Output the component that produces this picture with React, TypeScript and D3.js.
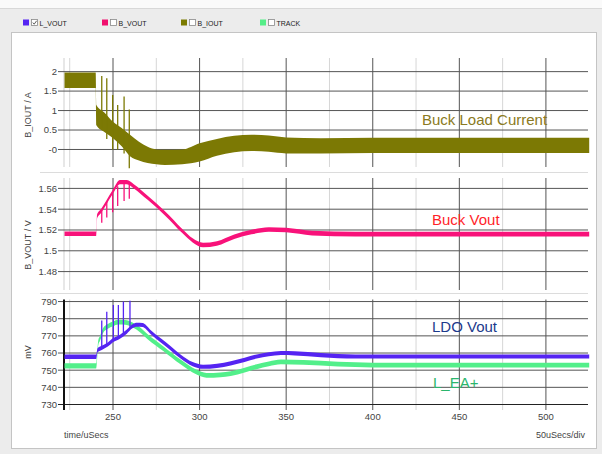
import React from "react";
import * as d3 from "d3";

// ---------- data ----------
const legendNames = ["L_VOUT", "B_VOUT", "B_IOUT", "TRACK"];
const legendChecked = [true, false, false, false];

const xMajorTicks = [250, 300, 350, 400, 450, 500];
const xMinorTicks = [225, 275, 325, 375, 425, 475];

const ioutTicks = [2, 1.5, 1, 0.5, 0];
const ioutTickLabels = ["2", "1.5", "1", "0.5", "-0"];
const bvoutTicks = [1.56, 1.54, 1.52, 1.5, 1.48];
const bvoutTickLabels = ["1.56", "1.54", "1.52", "1.5", "1.48"];
const mvTicks = [790, 780, 770, 760, 750, 740, 730];
const mvTickLabels = ["790", "780", "770", "760", "750", "740", "730"];

// B_IOUT envelope (A)
const ioutTime = [222, 240, 240.3, 245, 250, 255, 260, 265, 270, 275, 280, 290, 300, 310, 320, 330, 340, 350, 370, 400, 525];
const ioutHi = [1.98, 1.98, 1.15, 0.95, 0.71, 0.55, 0.37, 0.2, 0.07, 0.0, -0.01, 0.0, 0.16, 0.27, 0.35, 0.38, 0.36, 0.31, 0.29, 0.3, 0.3];
const ioutLo = [1.58, 1.58, 0.63, 0.45, 0.29, 0.08, -0.18, -0.28, -0.35, -0.38, -0.4, -0.38, -0.31, -0.16, -0.07, -0.04, -0.06, -0.1, -0.1, -0.09, -0.09];

// switching spikes (uSecs)
const spikeTime = [243.5, 246.4, 249.8, 252.7, 256.4, 259.4];
const ioutSpikeTop = [1.89, 1.83, 1.4, 1.14, 1.36, 1.03];
const ioutSpikeBottom = [0.55, 0.27, 0.0, 0.0, -0.1, -0.48];

// B_VOUT envelope (V)
const bvoutTime = [222, 240.3, 240.8, 243, 246, 250, 254, 258, 262, 270, 280, 290, 296, 302, 310, 320, 330, 340, 350, 365, 390, 525];
const bvoutHi = [1.5185, 1.5185, 1.535, 1.540, 1.548, 1.559, 1.568, 1.568, 1.564, 1.553, 1.538, 1.521, 1.512, 1.5077, 1.5092, 1.5157, 1.5202, 1.5227, 1.5222, 1.5192, 1.5182, 1.5182];
const bvoutLo = [1.5143, 1.5143, 1.531, 1.536, 1.544, 1.555, 1.564, 1.564, 1.560, 1.549, 1.534, 1.517, 1.508, 1.5033, 1.5048, 1.5113, 1.5158, 1.5183, 1.5178, 1.5148, 1.5138, 1.5138];
const bvoutSpikeTop = [1.540, 1.547, 1.556, 1.562, 1.566, 1.565];
const bvoutSpikeBottom = [1.527, 1.532, 1.537, 1.543, 1.548, 1.550];

// L_VOUT envelope (mV)
const lvoutTime = [222, 240.3, 241, 243.5, 247, 250, 254, 258, 261, 264, 267, 272, 277, 283, 289, 296, 302, 310, 318, 326, 333, 340, 347, 355, 370, 390, 525];
const lvoutHi = [759.1, 759.1, 762.7, 764.2, 766.2, 768.7, 770.7, 773.7, 776.7, 777.7, 777.5, 773.2, 769.0, 764.2, 759.2, 754.7, 753.2, 753.7, 755.2, 757.2, 759.2, 760.5, 761.2, 761.0, 760.0, 759.2, 759.2];
const lvoutLo = [756.5, 756.5, 760.3, 761.8, 763.8, 766.3, 768.3, 771.3, 774.3, 775.3, 775.1, 770.8, 766.6, 761.8, 756.8, 752.3, 750.8, 751.3, 752.8, 754.8, 756.8, 758.1, 758.8, 758.6, 757.6, 756.8, 756.8];
const lvoutSpikeTime = [243.5, 246.4, 250.2, 253.1, 256.0, 259.8];
const lvoutSpikeBottom = [763, 765, 767.5, 769, 771, 774];
const lvoutSpikeTop = [779, 784, 788, 788, 790, 790.5];

// TRACK / L_EA+ envelope (mV)
const trackTime = [222, 240.3, 241.5, 242.5, 244.2, 247, 250, 253, 256, 260, 265, 270, 279, 289, 298, 304, 312, 318, 326, 333, 340, 347, 360, 380, 400, 525];
const trackHi = [754.0, 754.0, 767.4, 769.9, 774.4, 776.9, 778.4, 779.4, 779.4, 778.4, 775.4, 770.9, 764.0, 756.2, 750.4, 748.4, 748.7, 749.4, 751.4, 753.4, 755.1, 756.2, 755.9, 754.9, 754.4, 754.4];
const trackLo = [751.0, 751.0, 764.6, 767.1, 771.6, 774.1, 775.6, 776.6, 776.6, 775.6, 772.6, 768.1, 761.2, 753.4, 747.6, 745.6, 745.9, 746.6, 748.6, 750.6, 752.3, 753.4, 753.1, 752.1, 751.6, 751.6];

// ---------- component ----------
const FONT = "'Liberation Sans', Arial, sans-serif";

export default function App() {
  const W = 602, H = 454;
  const left = 64, right = 588;
  const x = d3.scaleLinear().domain([221.7, 524.3]).range([left, right]);
  const y1 = d3.scaleLinear().domain([-0.45, 2.35]).range([167, 58]);
  const y2 = d3.scaleLinear().domain([1.4623, 1.57]).range([290, 178]);
  const y3 = d3.scaleLinear().domain([730, 791.2]).range([404.5, 299.5]);

  const band = (t: number[], lo: number[], hi: number[], y: d3.ScaleLinear<number, number>) =>
    d3
      .area<number>()
      .x((_, i) => x(t[i]))
      .y0((_, i) => y(lo[i]))
      .y1((_, i) => y(hi[i]))
      .curve(d3.curveMonotoneX)(t) as string;

  const colors = {
    lvout: "#5524f2",
    bvout: "#f8127a",
    iout: "#7c7904",
    track: "#52ef8a",
  };
  const legendColors = ["#5524f2", "#f0106e", "#7a7a00", "#55ee88"];
  const legendX = [23, 102, 181, 260];

  const panelGrid = (
    y: d3.ScaleLinear<number, number>,
    ticks: number[],
    labels: string[],
    top: number,
    bottom: number,
    key: string
  ) => (
    <g key={key}>
      <line x1={left} x2={left} y1={top} y2={bottom} stroke="#cfcfcf" />
      {xMinorTicks.map((t) => (
        <line key={"mn" + t} x1={x(t)} x2={x(t)} y1={top} y2={bottom} stroke="#d6d6d6" />
      ))}
      {xMajorTicks.map((t) => (
        <line key={"mj" + t} x1={x(t)} x2={x(t)} y1={top} y2={bottom} stroke="#555" />
      ))}
      {ticks.map((v, i) => (
        <g key={"h" + v}>
          <line x1={58} x2={right} y1={y(v)} y2={y(v)} stroke="#555" />
          <text
            x={57}
            y={y(v)}
            dy="0.35em"
            textAnchor="end"
            fontSize={9.5}
            fill="#444"
            fontFamily={FONT}
          >
            {labels[i]}
          </text>
        </g>
      ))}
    </g>
  );

  return (
    <div style={{ position: "fixed", left: 0, top: 0 }}>
      <svg width={W} height={H} style={{ display: "block" }}>
        <rect x={0} y={0} width={W} height={H} fill="#ececec" />
        <rect x={0} y={0} width={W} height={8} fill="#fafafa" />
        <line x1={0} x2={W} y1={8.5} y2={8.5} stroke="#d8d8d8" />
        {/* legend */}
        {legendNames.map((n, i) => (
          <g key={n}>
            <rect x={legendX[i]} y={19.5} width={6} height={6} fill={legendColors[i]} />
            <rect
              x={legendX[i] + 8.5}
              y={19.5}
              width={6}
              height={6}
              fill="#fff"
              stroke="#888"
              strokeWidth={0.8}
            />
            {legendChecked[i] && (
              <path
                d={`M${legendX[i] + 9.8},${22.6} L${legendX[i] + 11.2},${24.2} L${legendX[i] + 13.6},${20.8}`}
                fill="none"
                stroke="#333"
                strokeWidth={0.8}
              />
            )}
            <text x={legendX[i] + 16.5} y={25.5} fontSize={7} fill="#222" fontFamily={FONT}>
              {n}
            </text>
          </g>
        ))}
        {/* frame */}
        <rect x={11.5} y={32.5} width={585} height={416} fill="#fff" stroke="#c4c4c4" />
        {/* panel separators */}
        <line x1={40} x2={right} y1={172.5} y2={172.5} stroke="#dcdcdc" />
        <line x1={40} x2={right} y1={293.5} y2={293.5} stroke="#dcdcdc" />

        {panelGrid(y1, ioutTicks, ioutTickLabels, 58, 167, "p1")}
        {panelGrid(y2, bvoutTicks, bvoutTickLabels, 178, 290, "p2")}
        {/* panel 3 grid */}
        <g>
          {xMinorTicks.map((t) => (
            <line key={"mn3" + t} x1={x(t)} x2={x(t)} y1={299.5} y2={410} stroke="#d6d6d6" />
          ))}
          {xMajorTicks.map((t) => (
            <line key={"mj3" + t} x1={x(t)} x2={x(t)} y1={299.5} y2={410} stroke="#555" />
          ))}
          {mvTicks.map((v, i) => (
            <g key={"h3" + v}>
              <line x1={58} x2={right} y1={y3(v)} y2={y3(v)} stroke={v === 730 ? "#222" : "#555"} />
              <text
                x={57}
                y={y3(v)}
                dy="0.35em"
                textAnchor="end"
                fontSize={9.5}
                fill="#444"
                fontFamily={FONT}
              >
                {mvTickLabels[i]}
              </text>
            </g>
          ))}
          <line x1={left} x2={left} y1={299.5} y2={410} stroke="#111" strokeWidth={2} />
          {xMajorTicks.map((t) => (
            <text
              key={"xl" + t}
              x={x(t)}
              y={419.5}
              textAnchor="middle"
              fontSize={9.5}
              fill="#444"
              fontFamily={FONT}
            >
              {t}
            </text>
          ))}
        </g>

        {/* traces: panel 1 */}
        <path d={band(ioutTime, ioutLo, ioutHi, y1)} fill={colors.iout} />
        {spikeTime.map((t, i) => (
          <line
            key={"is" + i}
            x1={x(t)}
            x2={x(t)}
            y1={y1(ioutSpikeTop[i])}
            y2={y1(ioutSpikeBottom[i])}
            stroke={colors.iout}
            strokeWidth={1.3}
          />
        ))}
        {/* panel 2 */}
        <path d={band(bvoutTime, bvoutLo, bvoutHi, y2)} fill={colors.bvout} />
        {spikeTime.map((t, i) => (
          <line
            key={"bs" + i}
            x1={x(t)}
            x2={x(t)}
            y1={y2(bvoutSpikeTop[i])}
            y2={y2(bvoutSpikeBottom[i])}
            stroke={colors.bvout}
            strokeWidth={1.3}
          />
        ))}
        {/* panel 3 */}
        <path d={band(trackTime, trackLo, trackHi, y3)} fill={colors.track} />
        <path d={band(lvoutTime, lvoutLo, lvoutHi, y3)} fill={colors.lvout} />
        {lvoutSpikeTime.map((t, i) => (
          <line
            key={"ls" + i}
            x1={x(t)}
            x2={x(t)}
            y1={y3(lvoutSpikeTop[i])}
            y2={y3(lvoutSpikeBottom[i])}
            stroke={colors.lvout}
            strokeWidth={1.3}
          />
        ))}

        {/* axis titles */}
        <text
          transform="translate(31,115) rotate(-90)"
          textAnchor="middle"
          fontSize={9}
          fill="#444"
          fontFamily={FONT}
        >
          B_IOUT / A
        </text>
        <text
          transform="translate(31,245) rotate(-90)"
          textAnchor="middle"
          fontSize={9}
          fill="#444"
          fontFamily={FONT}
        >
          B_VOUT / V
        </text>
        <text
          transform="translate(31,352) rotate(-90)"
          textAnchor="middle"
          fontSize={9}
          fill="#444"
          fontFamily={FONT}
        >
          mV
        </text>
        <text x={64} y={438} fontSize={9} fill="#444" fontFamily={FONT}>
          time/uSecs
        </text>
        <text x={585} y={438} textAnchor="end" fontSize={9} fill="#444" fontFamily={FONT}>
          50uSecs/div
        </text>

        {/* annotations */}
        <text x={422} y={125} fontSize={15} fill="#8a7a22" fontFamily={FONT}>
          Buck Load Current
        </text>
        <text x={432} y={225} fontSize={15} fill="#ff1f2a" fontFamily={FONT}>
          Buck Vout
        </text>
        <text x={432} y={332} fontSize={15} fill="#1c3a8c" fontFamily={FONT}>
          LDO Vout
        </text>
        <text x={433} y={388} fontSize={15} fill="#2bb56c" fontFamily={FONT}>
          L_EA+
        </text>
      </svg>
    </div>
  );
}
